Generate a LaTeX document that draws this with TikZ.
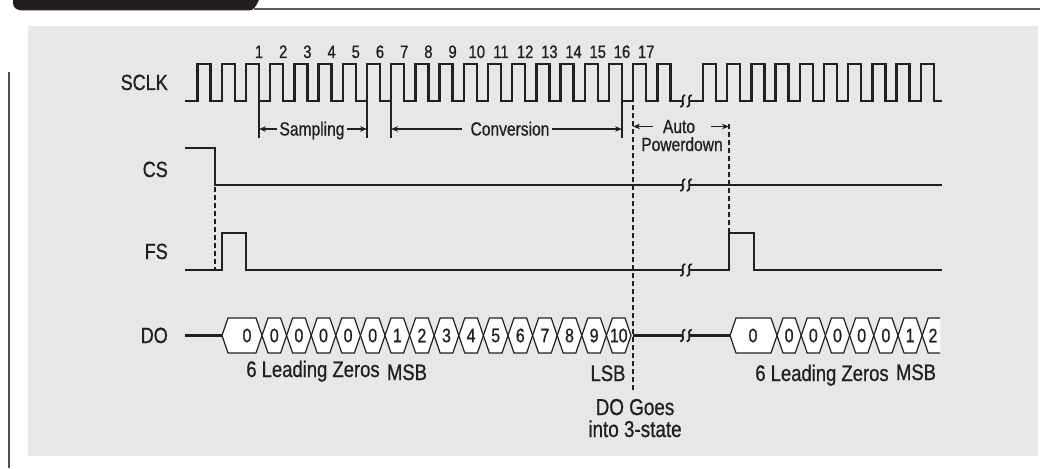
\documentclass[tikz,border=0pt]{standalone}
\usepackage{fontspec}
\setmainfont{Liberation Sans}[FakeStretch=0.82,FakeBold=0.8]
\usetikzlibrary{arrows.meta}
\definecolor{bggray}{RGB}{230,231,233}
\definecolor{ink}{RGB}{35,31,32}
\tikzset{%
    sig/.style={line width=2.4pt, ink},
    bus/.style={line width=1.2pt, ink, fill=white},
    tck/.style={line width=1.3pt, ink},
    dsh/.style={line width=1.6pt, ink, dash pattern=on 5pt off 3pt},
    arr/.style={line width=1.3pt, ink, -{Stealth[length=7pt,width=5.5pt]}},
    lbl/.style={inner sep=0pt, anchor=base east, ink, font=\fontsize{22}{24}\selectfont},
    num/.style={inner sep=0pt, anchor=base, ink, font=\fontsize{18}{20}\selectfont},
    txt/.style={inner xsep=2pt, inner ysep=0pt, text height=13pt, text depth=0pt, ink, font=\fontsize{19}{22}\selectfont},
    sub/.style={inner sep=0pt, anchor=base, ink, font=\fontsize{22.5}{24}\selectfont},
    dig/.style={inner sep=0pt, ink, font=\fontsize{19.5}{22}\selectfont},
    brk/.pic={
        \fill[bggray] (-3.5,-3) rectangle (3.5,3);
        \foreach \dx in {-3.2,3.2}
            \draw[line width=1.8pt, ink] ({\dx+2.5},-6) .. controls ({\dx-4},-4) and ({\dx+4},4) .. ({\dx-2.5},6);
    }
}

\begin{document}
\begin{tikzpicture}[x=1pt,y=-1pt]
    \useasboundingbox (0,0) rectangle (1040,468);
    % page furniture
    \fill[bggray] (28,26) rectangle (1038,456);
    \fill[ink] (13,0) -- (13,3) .. controls (13,8) and (17,10.5) .. (23,10.5) -- (249,10.5) .. controls (254,10.5) and (256,6) .. (259,0) -- cycle;
    \draw[line width=2pt, black!65] (254,9.5) -- (1040,9.5);
    \draw[line width=1.5pt, black!70] (9,72) -- (9,468);

    \node[lbl] (sclk) at (168,90) {SCLK};
    \node[lbl] (cs) at (168,177) {CS};
    \node[lbl] (fs) at (168,259) {FS};
    \node[lbl] (dout) at (168,343) {DO};

    % clock
    \draw[sig] (185,101) \foreach \j in {0,...,19}{ -- ({197.6+24.2*\j},101) -- ++(0,-37) -- ++(13,0) -- ++(0,37)}
        -- (703,101) \foreach \j in {0,...,9}{ -- ({703+24.2*\j},101) -- ++(0,-37) -- ++(13,0) -- ++(0,37)} -- (942,101);
    \foreach \n in {1,...,17}
        \node[num] (n\n) at ({259+24.2*(\n-1)},58) {\n};

    \draw[sig] (185,148) -- (215,148) -- (215,185) -- (942,185);
    \draw[sig] (185,270) -- (222,270) -- (222,233) -- (246,233) -- (246,270) -- (729,270) -- (729,233) -- (754,233) -- (754,270) -- (942,270);
    \draw[sig] (185,335.5) -- (222,335.5) (633,335.5) -- (730,335.5);

    % ticks and dashed markers
    \draw[tck] (259,101) -- (259,138) coordinate (sa);
    \draw[tck] (367,101) -- (367,138) coordinate (sb);
    \draw[tck] (391,101) -- (391,138) coordinate (ca);
    \draw[tck] (622,101) -- (622,138) coordinate (cb);
    \draw[dsh] (633,105) coordinate (dl1) -- (633,390);
    \draw[dsh] (729,124) coordinate (dl2) -- (729,233);
    \draw[dsh] (215,187) -- (215,270);

    \node[txt] (samp) at (312,129) {Sampling};
    \draw[arr] (samp.west) -- (samp.west -| sa);
    \draw[arr] (samp.east) -- (samp.east -| sb);
    \node[txt] (conv) at (510,129) {Conversion};
    \draw[arr] ([xshift=-6pt]conv.west) -- (conv.west -| ca);
    \draw[arr] (conv.east) -- (conv.east -| cb);
    \node[txt] (auto) at (679,126.5) {Auto};
    \node[txt] (pwd) at (682,144.5) {Powerdown};
    \draw[arr] ([xshift=-8pt]auto.west) -- (auto.west -| dl1);
    \draw[arr] ([xshift=14pt]auto.east) -- (auto.east -| dl2);

    % DO bus, first frame
    \draw[bus] (222,335.5) -- (228,318) -- (256,318) -- (262,335.5) -- (256,353) -- (228,353) -- cycle;
    \node[dig] (z0) at (247,335.5) {0};
    \foreach \d [count=\k from 0] in {0,0,0,0,0,1,2,3,4,5,6,7,8,9,10}{
        \draw[bus] ({262+24.6*\k},335.5) -- ++(6,-17.5) -- ({280.6+24.6*\k},318) -- ++(6,17.5) -- ++(-6,17.5) -- ({268+24.6*\k},353) -- cycle;
        \node[dig] (b\k) at ({274.3+24.6*\k},335.5) {\d};
    }
    % DO bus, next frame
    \draw[bus] (730,335.5) -- (736,318) -- (771,318) -- (777,335.5) -- (771,353) -- (736,353) -- cycle;
    \node[dig] (y0) at (753,335.5) {0};
    \foreach \d [count=\k from 0] in {0,0,0,0,0,1}{
        \draw[bus] ({777+24.2*\k},335.5) -- ++(6,-17.5) -- ({795.2+24.2*\k},318) -- ++(6,17.5) -- ++(-6,17.5) -- ({783+24.2*\k},353) -- cycle;
        \node[dig] (c\k) at ({789.1+24.2*\k},335.5) {\d};
    }
    \fill[white] (922.2,335.5) -- (928.2,318) -- (940,318) -- (940,353) -- (928.2,353) -- cycle;
    \draw[bus] (940,318) -- (928.2,318) -- (922.2,335.5) -- (928.2,353) -- (940,353);
    \node[dig] (c6) at (933,335.5) {2};

    \node[sub] (lz1) at (313,377) {6 Leading Zeros};
    \node[sub] (msb1) at (407,380) {MSB};
    \node[sub] (lsb) at (608,381) {LSB};
    \node[sub] (lz2) at (822,381) {6 Leading Zeros};
    \node[sub] (msb2) at (916,380) {MSB};
    \node[sub, font=\fontsize{23}{24}\selectfont] (dog) at (635,415) {DO Goes};
    \node[sub, font=\fontsize{23}{24}\selectfont] (tri) at (635,437) {into 3-state};

    % breaks
    \foreach \y in {101,185,270,335.5}
        \pic at (686,\y) {brk};
\end{tikzpicture}
\end{document}
